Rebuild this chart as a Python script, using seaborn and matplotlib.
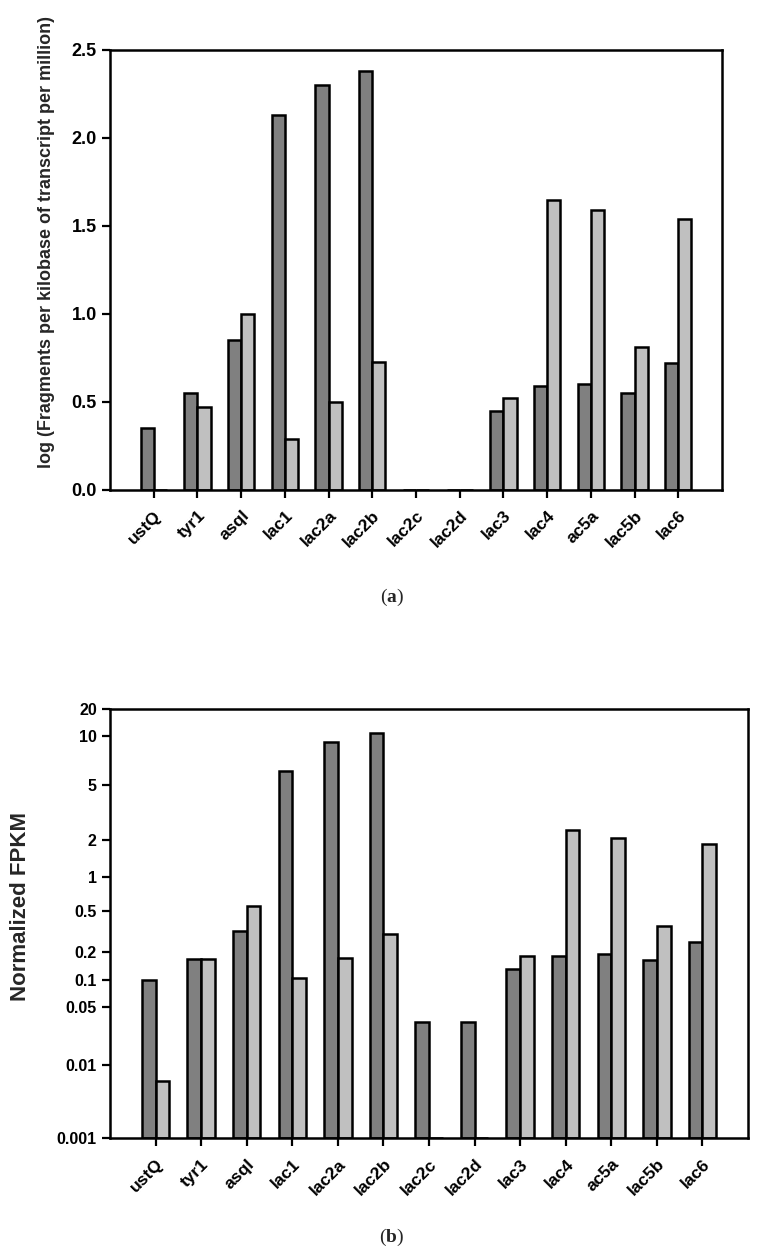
import numpy as np
import pandas as pd
import matplotlib
matplotlib.use("Agg")
import matplotlib.pyplot as plt
import seaborn as sns

# -----------------------------
# data
# -----------------------------
genes = ["ustQ", "tyr1", "asql", "lac1", "lac2a", "lac2b", "lac2c",
         "lac2d", "lac3", "lac4", "ac5a", "lac5b", "lac6"]

# panel (a): log FPKM
log_fpkm_dark = [0.35, 0.55, 0.85, 2.13, 2.30, 2.38, 0.0, 0.0, 0.45, 0.59, 0.60, 0.55, 0.72]
log_fpkm_light = [0.0, 0.47, 1.00, 0.29, 0.50, 0.73, 0.0, 0.0, 0.52, 1.65, 1.59, 0.81, 1.54]

# panel (b): normalized FPKM
norm_dark = [0.10, 0.165, 0.32, 6.15, 9.2, 11.0, 0.0325, 0.0325, 0.132, 0.18, 0.19, 0.163, 0.245]
norm_light = [0.006, 0.165, 0.55, 0.105, 0.17, 0.295, 0.0, 0.0, 0.18, 2.37, 2.06, 0.355, 1.84]

b_ticks = [0.001, 0.01, 0.05, 0.1, 0.2, 0.5, 1, 2, 5, 10, 20]
b_tick_labels = ["0.001", "0.01", "0.05", "0.1", "0.2", "0.5", "1", "2", "5", "10", "20"]
# the original axis is not a plain log axis: relative heights of the tick marks
b_tick_height = [0, 73.3, 131.6, 158.3, 186.6, 227.6, 261.6, 298.3, 352.6, 401.6, 429.0]

dark = "#808080"
light = "#c0c0c0"

df_a = pd.DataFrame({
    "gene": genes * 2,
    "value": log_fpkm_dark + log_fpkm_light,
    "group": ["dark"] * len(genes) + ["light"] * len(genes),
})
df_b = pd.DataFrame({
    "gene": genes * 2,
    "value": norm_dark + norm_light,
    "group": ["dark"] * len(genes) + ["light"] * len(genes),
})

# -----------------------------
# setup
# -----------------------------
sns.set_style("ticks")
plt.rcParams["font.family"] = ["Liberation Sans", "DejaVu Sans"]
plt.rcParams["font.weight"] = "bold"
plt.rcParams["mathtext.fontset"] = "custom"
plt.rcParams["mathtext.bf"] = "Liberation Serif:bold"
plt.rcParams["mathtext.rm"] = "Liberation Serif"

fig = plt.figure(figsize=(7.6, 12.54), dpi=100)
ax_a = fig.add_axes([110 / 760, 1 - 490 / 1254, 612 / 760, 440 / 1254])
ax_b = fig.add_axes([110 / 760, 1 - 1138.3 / 1254, 638 / 760, 429.3 / 1254])

log_t = np.log10(b_ticks)
h_t = np.array(b_tick_height)


def fwd(y):
    y = np.clip(np.asarray(y, dtype=float), 1e-9, None)
    return np.interp(np.log10(y), log_t, h_t)


def inv(h):
    return 10 ** np.interp(np.asarray(h, dtype=float), h_t, log_t)


ax_b.set_yscale("function", functions=(fwd, inv))

bar_kws = dict(x="gene", y="value", hue="group", order=genes,
               palette=[dark, light], width=0.6, edgecolor="black",
               linewidth=1.8, errorbar=None, legend=False, saturation=1)

sns.barplot(data=df_a, ax=ax_a, **bar_kws)
sns.barplot(data=df_b, ax=ax_b, **bar_kws)

# -----------------------------
# panel (a)
# -----------------------------
ax_a.set_xlim(-1, 13)
ax_a.set_ylim(0, 2.5)
ax_a.set_yticks([0.0, 0.5, 1.0, 1.5, 2.0, 2.5])
ax_a.set_yticklabels(["0.0", "0.5", "1.0", "1.5", "2.0", "2.5"],
                     fontsize=13, fontweight="bold")
ax_a.set_ylabel("log (Fragments per kilobase of transcript per million)",
                fontsize=13, fontweight="bold")
ax_a.yaxis.set_label_coords(-55 / 612, 0.563, transform=ax_a.transAxes)

# -----------------------------
# panel (b)
# -----------------------------
ax_b.set_xlim(-1, 13)
ax_b.set_ylim(0.001, 20)
ax_b.set_yticks(b_ticks)
ax_b.set_yticklabels(b_tick_labels, fontsize=11.5, fontweight="bold")
ax_b.yaxis.set_minor_locator(matplotlib.ticker.NullLocator())
ax_b.set_ylabel("Normalized FPKM", fontsize=16, fontweight="bold")
ax_b.yaxis.set_label_coords(-79 / 638, 0.539, transform=ax_b.transAxes)

for ax in (ax_a, ax_b):
    ax.set_xlabel("")
    ax.set_xticks(range(len(genes)))
    ax.set_xticklabels(genes, rotation=45, ha="right", rotation_mode="anchor",
                       fontsize=12.5, fontweight="bold")
    for s in ax.spines.values():
        s.set_visible(True)
        s.set_linewidth(1.8)
        s.set_color("black")
    ax.tick_params(direction="out", length=6, width=1.6, colors="black")
    ax.tick_params(axis="x", pad=7)

fig.text(392 / 760, 1 - 597 / 1254, r"($\mathbf{a}$)", ha="center", va="center",
         fontsize=14, family="Liberation Serif", fontweight="normal")
fig.text(392 / 760, 1 - 1237 / 1254, r"($\mathbf{b}$)", ha="center", va="center",
         fontsize=14, family="Liberation Serif", fontweight="normal")

plt.savefig("out.png", dpi=100)
